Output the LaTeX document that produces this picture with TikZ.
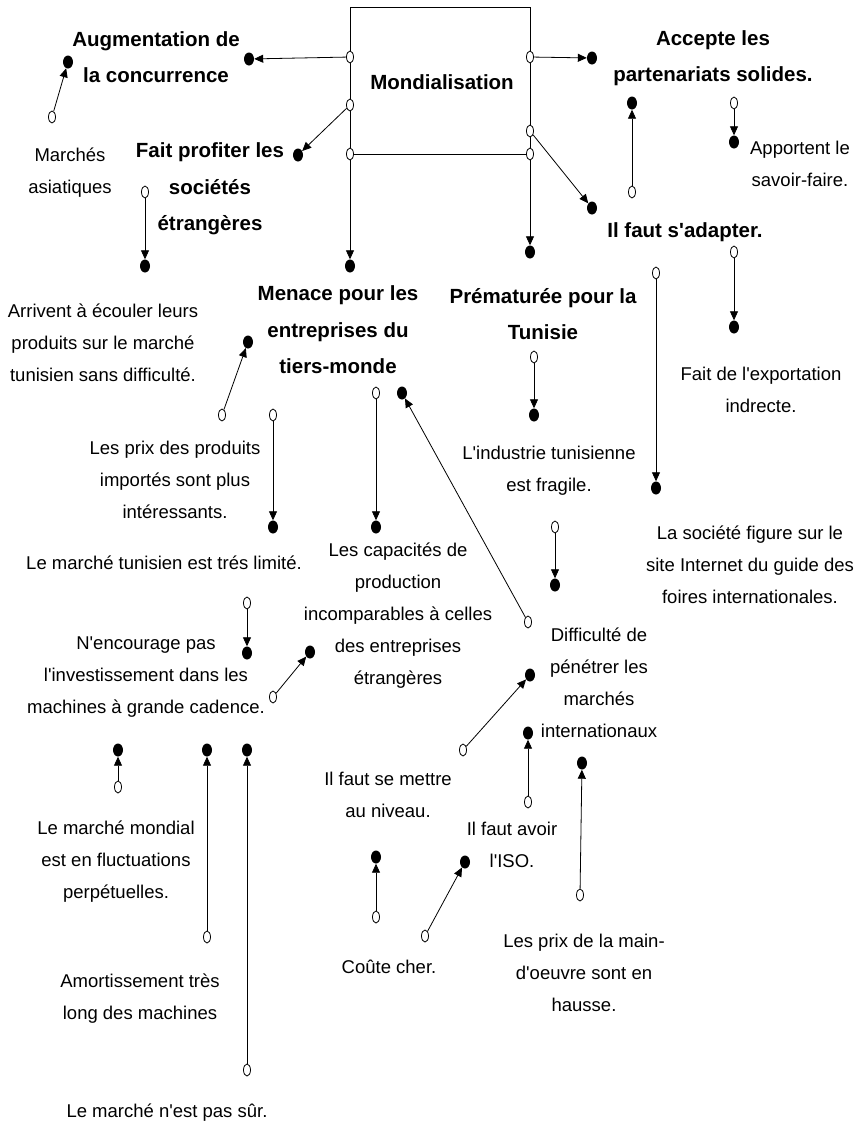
\documentclass[tikz,border=0pt]{standalone}
\usepackage{fontspec}
\setmainfont[Ligatures=TeXOff]{Liberation Sans}
\usetikzlibrary{arrows.meta,shapes.geometric}
\tikzset{
  src/.style={ellipse,draw,fill=white,line width=0.8pt,minimum width=7pt,minimum height=12pt,inner sep=0pt},
  tgt/.style={ellipse,fill=black,minimum width=10pt,minimum height=13pt,inner sep=0pt},
  conn/.style={-{Triangle[length=9pt,width=8pt]},line width=0.8pt},
  boxline/.style={line width=0.9pt},
  lab/.style={align=center,inner sep=0pt,font=\fontsize{18.5}{32}\selectfont},
  blab/.style={align=center,inner sep=0pt,font=\fontsize{20.5}{36.5}\selectfont\bfseries},
}
\begin{document}
\begin{tikzpicture}[x=1pt,y=-1pt]
\useasboundingbox (0,0) rectangle (861,1128);
\fill[white] (0,0) rectangle (861,1128);

% Mondialisation box
\coordinate (btl) at (350,7);
\coordinate (btr) at (530,7);
\coordinate (bbl) at (350,154);
\coordinate (bbr) at (530,154);
\draw[boxline] (bbl) -- (btl) -- (btr) -- (bbr) -- cycle;
\node[blab] (mond) at (442,82) {Mondialisation};

% circles on the box
\node[src] (ml1) at (350,57) {};
\node[src] (ml2) at (350,105) {};
\node[src] (ml3) at (350,154) {};
\node[src] (mr1) at (530,57) {};
\node[src] (mr2) at (530,131) {};
\node[src] (mr3) at (530,154) {};

% bold labels
\node[blab] (aug) at (156,57) {Augmentation de\\la concurrence};
\node[blab] (acc) at (713,58) {Accepte les\\partenariats solides.};
\node[blab] (fait) at (210,189) {Fait profiter les\\sociétés\\étrangères};
\node[blab] (adapt) at (685,232) {Il faut s'adapter.};
\node[blab] (men) at (338,330) {Menace pour les\\entreprises du\\tiers-monde};
\node[blab] (prem) at (543,314) {Prématurée pour la\\Tunisie};

% normal labels
\node[lab] (asia) at (70,173) {Marchés\\asiatiques};
\node[lab] (savoir) at (800,164) {Apportent le\\savoir-faire.};
\node[lab] (arriv) at (103,343) {Arrivent à écouler leurs\\produits sur le marché\\tunisien sans difficulté.};
\node[lab] (prix) at (175,480) {Les prix des produits\\importés sont plus\\intéressants.};
\node[lab] (limite) at (164,563) {Le marché tunisien est trés limité.};
\node[lab] (capa) at (398,616) {Les capacités de\\production\\incomparables à celles\\des entreprises\\étrangères};
\node[lab] (fragile) at (549,471) {L'industrie tunisienne\\est fragile.};
\node[lab] (export) at (761,390) {Fait de l'exportation\\indrecte.};
\node[lab] (site) at (750,565) {La société figure sur le\\site Internet du guide des\\foires internationales.};
\node[lab] (diff) at (599,683) {Difficulté de\\pénétrer les\\marchés\\internationaux};
\node[lab] (encour) at (146,677) {N'encourage pas\\l'investissement dans les\\machines à grande cadence.};
\node[lab] (fluct) at (116,862) {Le marché mondial\\est en fluctuations\\perpétuelles.};
\node[lab] (niveau) at (388,795) {Il faut se mettre\\au niveau.};
\node[lab] (iso) at (512,845) {Il faut avoir\\l'ISO.};
\node[lab] (amort) at (140,999) {Amortissement très\\long des machines};
\node[lab] (cher) at (389,967) {Coûte cher.};
\node[lab] (main) at (584,973) {Les prix de la main-\\d'oeuvre sont en\\hausse.};
\node[lab] (sur) at (167,1113) {Le marché n'est pas sûr.};

% target dots
\node[tgt] (d1) at (249,59) {};
\node[tgt] (d2) at (592,58) {};
\node[tgt] (d3) at (298,155) {};
\node[tgt] (d4) at (592,208) {};
\node[tgt] (d5) at (350,266) {};
\node[tgt] (d6) at (530,252) {};
\node[tgt] (d7) at (68,62) {};
\node[tgt] (d8) at (145,266) {};
\node[tgt] (d9) at (632,103) {};
\node[tgt] (d10) at (734,142) {};
\node[tgt] (d11) at (656,488) {};
\node[tgt] (d12) at (734,327) {};
\node[tgt] (d13) at (534,415) {};
\node[tgt] (d14) at (555,585) {};
\node[tgt] (d15) at (248,342) {};
\node[tgt] (d16) at (273,527) {};
\node[tgt] (d17) at (376,527) {};
\node[tgt] (d18) at (402,393) {};
\node[tgt] (d19) at (247,653) {};
\node[tgt] (d20) at (310,652) {};
\node[tgt] (d21) at (118,750) {};
\node[tgt] (d22) at (207,750) {};
\node[tgt] (d23) at (247,750) {};
\node[tgt] (d24) at (530,675) {};
\node[tgt] (d25) at (528,733) {};
\node[tgt] (d26) at (582,763) {};
\node[tgt] (d27) at (376,857) {};
\node[tgt] (d28) at (465,862) {};

% source circles
\node[src] (c7) at (52,117) {};
\node[src] (c8) at (145,192) {};
\node[src] (c9) at (632,192) {};
\node[src] (c10) at (734,103) {};
\node[src] (c11) at (656,273) {};
\node[src] (c12) at (734,252) {};
\node[src] (c13) at (534,357) {};
\node[src] (c14) at (555,527) {};
\node[src] (c15) at (222,415) {};
\node[src] (c16) at (273,415) {};
\node[src] (c17) at (376,393) {};
\node[src] (c18) at (528,622) {};
\node[src] (c19) at (247,603) {};
\node[src] (c20) at (273,697) {};
\node[src] (c21) at (118,787) {};
\node[src] (c22) at (207,937) {};
\node[src] (c23) at (247,1070) {};
\node[src] (c24) at (463,750) {};
\node[src] (c25) at (528,802) {};
\node[src] (c26) at (580,895) {};
\node[src] (c27) at (376,917) {};
\node[src] (c28) at (425,936) {};

% connectors
\draw[conn] (ml1) -- (d1);
\draw[conn] (mr1) -- (d2);
\draw[conn] (ml2) -- (d3);
\draw[conn] (mr2) -- (d4);
\draw[conn] (ml3) -- (d5);
\draw[conn] (mr3) -- (d6);
\draw[conn] (c7) -- (d7);
\draw[conn] (c8) -- (d8);
\draw[conn] (c9) -- (d9);
\draw[conn] (c10) -- (d10);
\draw[conn] (c11) -- (d11);
\draw[conn] (c12) -- (d12);
\draw[conn] (c13) -- (d13);
\draw[conn] (c14) -- (d14);
\draw[conn] (c15) -- (d15);
\draw[conn] (c16) -- (d16);
\draw[conn] (c17) -- (d17);
\draw[conn] (c18) -- (d18);
\draw[conn] (c19) -- (d19);
\draw[conn] (c20) -- (d20);
\draw[conn] (c21) -- (d21);
\draw[conn] (c22) -- (d22);
\draw[conn] (c23) -- (d23);
\draw[conn] (c24) -- (d24);
\draw[conn] (c25) -- (d25);
\draw[conn] (c26) -- (d26);
\draw[conn] (c27) -- (d27);
\draw[conn] (c28) -- (d28);
\end{tikzpicture}
\end{document}
